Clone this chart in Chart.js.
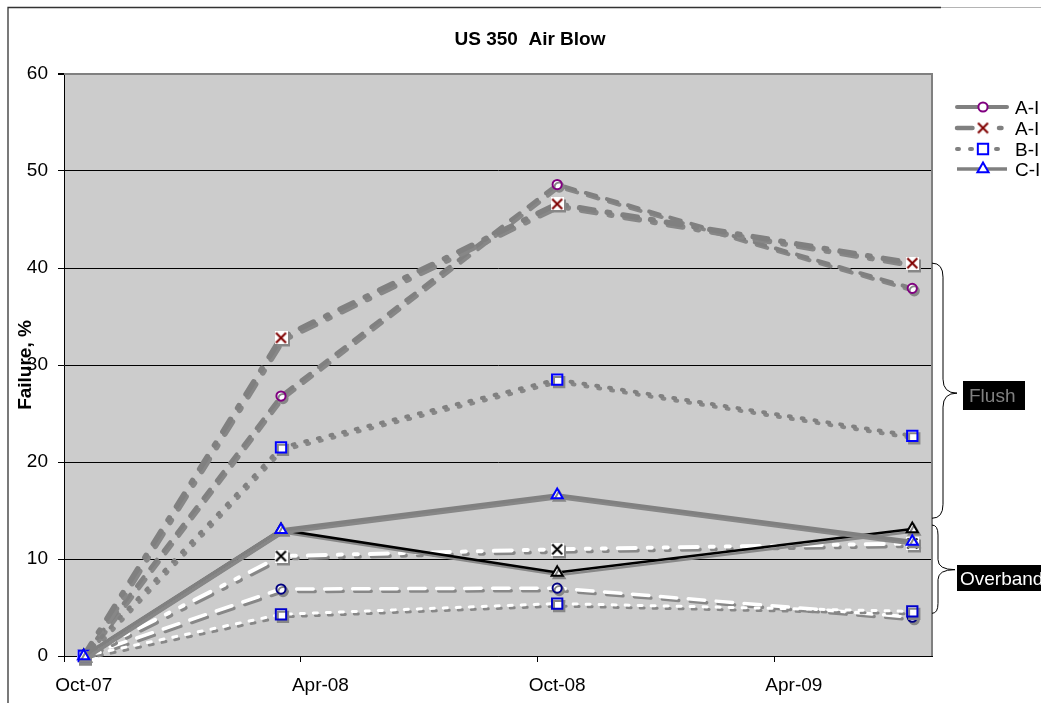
<!DOCTYPE html>
<html>
<head>
<meta charset="utf-8">
<script src="https://cdn.jsdelivr.net/npm/chart.js@4.4.1/dist/chart.umd.min.js"></script>
<style>
html,body{margin:0;padding:0;background:#ffffff;}
#wrap{width:1041px;height:703px;position:relative;overflow:hidden;}
canvas{display:block;}
</style>
</head>
<body>
<div id="wrap"><canvas id="c" width="1041" height="703"></canvas></div>
<script>
// ---------------- data ----------------
const chartTitle = 'US 350  Air Blow';
const yAxisTitle = 'Failure, %';
// x axis: months counted from 1 Oct 2007
const xMin = 0;
const xMax = 22;
const xTickValues = [0, 6, 12, 18];
const xTickLabels = ['Oct-07', 'Apr-08', 'Oct-08', 'Apr-09'];
const yTickValues = [0, 10, 20, 30, 40, 50, 60];
// sampling dates: mid Oct-07, mid Mar-08, mid Oct-08, mid Jul-09
const sampleMonths = [0.5, 5.5, 12.5, 21.5];

const legendNames = ['A-I', 'A-I', 'B-I', 'C-I'];

// Flush group (grey lines)
const flushCircle   = [0, 26.8, 48.6, 37.9];
const flushCross    = [0, 32.8, 46.6, 40.5];
const flushSquare   = [0, 21.5, 28.5, 22.7];
const flushTriangle = [0, 13.0, 16.6, 11.8];
// Overbanded group (white / black lines)
const overCircle    = [0, 6.9, 7.0, 4.0];
const overCross     = [0, 10.3, 11.0, 11.6];
const overSquare    = [0, 4.3, 5.4, 4.6];
const overTriangle  = [0, 13.0, 8.6, 13.1];

// brace annotations (value ranges on the y axis)
const groupLabels = ['Flush', 'Overbanded'];
const groupTop    = [40.5, 13.5];
const groupBottom = [14.2, 4.4];
const groupTip    = [27.1, 8.9];

// ---------------- helpers ----------------
const FONT = "'Liberation Sans', Arial, Helvetica, sans-serif";
function pts(vals){ return sampleMonths.map((m, i) => ({x: m, y: vals[i]})); }

function crossMarker(color){
  const c = document.createElement('canvas');
  c.width = 13; c.height = 13;
  const g = c.getContext('2d');
  g.fillStyle = '#ffffff';
  g.fillRect(0, 0, 13, 13);
  g.strokeStyle = color;
  g.lineWidth = 2;
  g.beginPath();
  g.moveTo(1.5, 1.5); g.lineTo(11.5, 11.5);
  g.moveTo(11.5, 1.5); g.lineTo(1.5, 11.5);
  g.stroke();
  return c;
}
const redCross = crossMarker('#800000');
const blackCross = crossMarker('#000000');

function roundDash(arr, w){ // visible lengths -> dash array for round caps
  return arr.map((v, i) => i % 2 === 0 ? Math.max(0.1, v - w) : v + w);
}

const GREY = '#808080';

const datasets = [
  { label: legendNames[0], data: pts(flushCircle), borderColor: GREY, borderWidth: 4,
    borderDash: roundDash([15, 7], 4), borderCapStyle: 'round', legendDash: [],
    pointStyle: 'circle', pointRadius: 4.6, pointBorderColor: '#800080', pointBackgroundColor: '#ffffff', pointBorderWidth: 2, order: 3 },
  { label: legendNames[1], data: pts(flushCross), borderColor: GREY, borderWidth: 5.5,
    borderDash: roundDash([20, 8, 8, 8], 5.5), borderCapStyle: 'round', legendDash: roundDash([21, 21, 8, 8], 5.5),
    pointStyle: redCross, pointRadius: 7, order: 2 },
  { label: legendNames[2], data: pts(flushSquare), borderColor: GREY, borderWidth: 4,
    borderDash: roundDash([6, 7], 4), borderCapStyle: 'round', legendDash: roundDash([6, 7], 4),
    pointStyle: 'rect', pointRadius: 7.3, pointBorderColor: '#0000ff', pointBackgroundColor: '#ffffff', pointBorderWidth: 2, order: 1 },
  { label: legendNames[3], data: pts(flushTriangle), borderColor: GREY, borderWidth: 3.5,
    borderDash: [], legendDash: [],
    pointStyle: 'triangle', pointRadius: 6.4, pointBorderColor: '#0000ff', pointBackgroundColor: '#ffffff', pointBorderWidth: 2, order: 0 },
  { label: 'Overbanded A-I', data: pts(overCircle), borderColor: '#ffffff', borderWidth: 3.5,
    borderDash: roundDash([20, 8], 3.5), borderCapStyle: 'round',
    pointStyle: 'circle', pointRadius: 4.6, pointBorderColor: '#000080', pointBackgroundColor: '#ffffff', pointBorderWidth: 2, order: 7 },
  { label: 'Overbanded A-I x', data: pts(overCross), borderColor: '#ffffff', borderWidth: 4,
    borderDash: roundDash([22, 8, 8, 8, 8, 8], 4), borderCapStyle: 'round',
    pointStyle: blackCross, pointRadius: 7, order: 6 },
  { label: 'Overbanded B-I', data: pts(overSquare), borderColor: '#ffffff', borderWidth: 3,
    borderDash: roundDash([7, 6], 3), borderCapStyle: 'round',
    pointStyle: 'rect', pointRadius: 7.3, pointBorderColor: '#0000cc', pointBackgroundColor: '#ffffff', pointBorderWidth: 2, order: 5 },
  { label: 'Overbanded C-I', data: pts(overTriangle), borderColor: '#000000', borderWidth: 2.5,
    borderDash: [],
    pointStyle: 'triangle', pointRadius: 6.4, pointBorderColor: '#000000', pointBackgroundColor: '#ffffff', pointBorderWidth: 2, order: 4 }
];
datasets.forEach(d => { d.clip = false; d.tension = 0; d.fill = false; d.pointHoverRadius = d.pointRadius; });

// ---------------- plugins ----------------
const backgroundPlugin = {
  id: 'bgFrame',
  beforeDraw(chart){
    const {ctx, chartArea: a} = chart;
    ctx.save();
    ctx.fillStyle = '#ffffff';
    ctx.fillRect(0, 0, chart.width, chart.height);
    ctx.fillStyle = '#cccccc';
    ctx.fillRect(a.left, a.top, a.right - a.left, a.bottom - a.top);
    // outer chart frame
    ctx.strokeStyle = '#333333';
    ctx.lineWidth = 1.3;
    ctx.beginPath();
    ctx.moveTo(8, chart.height); ctx.lineTo(8, 7.5); ctx.lineTo(941, 7.5);
    ctx.stroke();
    ctx.strokeStyle = '#b4b4b4';
    ctx.lineWidth = 1;
    ctx.beginPath();
    ctx.moveTo(941, 7.5); ctx.lineTo(chart.width, 7.5);
    ctx.stroke();
    // title
    ctx.fillStyle = '#000000';
    ctx.font = 'bold 19px ' + FONT;
    ctx.textAlign = 'center';
    ctx.textBaseline = 'alphabetic';
    ctx.fillText(chartTitle, 530, 45);
    ctx.restore();
  },
  beforeDatasetsDraw(chart){
    const {ctx, chartArea: a} = chart;
    ctx.save();
    ctx.strokeStyle = GREY;
    ctx.lineWidth = 2;
    ctx.beginPath();
    ctx.moveTo(a.left, a.top); ctx.lineTo(a.right, a.top); ctx.lineTo(a.right, a.bottom);
    ctx.stroke();
    ctx.restore();
  }
};

const shadowPlugin = {
  id: 'lineShadow',
  beforeDatasetDraw(chart){
    const ctx = chart.ctx;
    ctx.save();
    ctx.shadowColor = 'rgba(135,135,135,1)';
    ctx.shadowOffsetX = 2;
    ctx.shadowOffsetY = 2.5;
    ctx.shadowBlur = 0;
  },
  afterDatasetDraw(chart){
    chart.ctx.restore();
  }
};

function drawMarker(ctx, ds, x, y){
  const st = ds.pointStyle, r = ds.pointRadius;
  if (st instanceof HTMLCanvasElement){
    ctx.drawImage(st, x - st.width / 2, y - st.height / 2);
    return;
  }
  ctx.save();
  ctx.setLineDash([]);
  ctx.lineWidth = ds.pointBorderWidth;
  ctx.strokeStyle = ds.pointBorderColor;
  ctx.fillStyle = ds.pointBackgroundColor;
  ctx.beginPath();
  if (st === 'circle'){
    ctx.arc(x, y, r, 0, Math.PI * 2);
  } else if (st === 'rect'){
    const h = r * Math.SQRT1_2;
    ctx.rect(x - h, y - h, 2 * h, 2 * h);
  } else if (st === 'triangle'){
    ctx.moveTo(x, y - r);
    ctx.lineTo(x + r * 0.866, y + r * 0.5);
    ctx.lineTo(x - r * 0.866, y + r * 0.5);
    ctx.closePath();
  }
  ctx.fill();
  ctx.stroke();
  ctx.restore();
}

const legendPlugin = {
  id: 'excelLegend',
  afterDraw(chart){
    const ctx = chart.ctx;
    const x0 = 957, x1 = 1007, xm = 983, xt = 1015;
    const rowY = [107, 128, 149, 169];
    ctx.save();
    for (let i = 0; i < legendNames.length; i++){
      const ds = chart.data.datasets[i];
      const y = rowY[i];
      ctx.save();
      ctx.strokeStyle = ds.borderColor;
      ctx.lineWidth = Math.min(ds.borderWidth, 4.5);
      ctx.lineCap = ds.borderCapStyle || 'butt';
      ctx.setLineDash(ds.legendDash || []);
      ctx.beginPath();
      ctx.moveTo(x0, y); ctx.lineTo(x1, y);
      ctx.stroke();
      ctx.restore();
      drawMarker(ctx, ds, xm, y);
      ctx.fillStyle = '#000000';
      ctx.font = '19px ' + FONT;
      ctx.textAlign = 'left';
      ctx.textBaseline = 'alphabetic';
      ctx.fillText(legendNames[i], xt, y + 7);
    }
    ctx.restore();
  }
};

const bracePlugin = {
  id: 'braces',
  afterDraw(chart){
    const ctx = chart.ctx;
    const ys = chart.scales.y;
    const a = chart.chartArea;
    const specs = [
      {xv: a.right + 11, xt: a.right + 25, r: 14, box: [963, 381, 62, 29], color: GREY, tx: 969, ty: 402},
      {xv: a.right + 6,  xt: a.right + 23, r: 10, box: [957, 565, 90, 26], color: '#ffffff', tx: 960, ty: 585}
    ];
    ctx.save();
    for (let i = 0; i < groupLabels.length; i++){
      const s = specs[i];
      const yT = ys.getPixelForValue(groupTop[i]);
      const yB = ys.getPixelForValue(groupBottom[i]);
      const yM = ys.getPixelForValue(groupTip[i]);
      const x0 = a.right;
      ctx.strokeStyle = '#000000';
      ctx.lineWidth = 1;
      ctx.beginPath();
      ctx.moveTo(x0, yT);
      ctx.quadraticCurveTo(s.xv, yT, s.xv, yT + s.r);
      ctx.lineTo(s.xv, yM - s.r);
      ctx.quadraticCurveTo(s.xv, yM, s.xt, yM);
      ctx.quadraticCurveTo(s.xv, yM, s.xv, yM + s.r);
      ctx.lineTo(s.xv, yB - s.r);
      ctx.quadraticCurveTo(s.xv, yB, x0, yB);
      ctx.stroke();
      ctx.fillStyle = '#000000';
      ctx.fillRect(s.box[0], s.box[1], s.box[2], s.box[3]);
      ctx.fillStyle = s.color;
      ctx.font = '19px ' + FONT;
      ctx.textAlign = 'left';
      ctx.textBaseline = 'alphabetic';
      ctx.fillText(groupLabels[i], s.tx, s.ty);
    }
    ctx.restore();
  }
};

// ---------------- chart ----------------
new Chart(document.getElementById('c'), {
  type: 'line',
  data: { datasets },
  options: {
    responsive: false,
    animation: false,
    events: [],
    layout: { padding: { top: 74, right: 109, bottom: 0, left: 0 } },
    plugins: { legend: { display: false }, title: { display: false }, tooltip: { enabled: false } },
    scales: {
      x: {
        type: 'linear',
        min: xMin, max: xMax,
        afterBuildTicks: s => { s.ticks = xTickValues.map(v => ({ value: v })); },
        afterFit: s => { s.height = 47; },
        ticks: {
          callback: v => xTickLabels[xTickValues.indexOf(v)],
          font: { family: FONT, size: 19 },
          color: '#000000',
          padding: 12,
          labelOffset: 19.7,
          maxRotation: 0,
          autoSkip: false
        },
        grid: { drawOnChartArea: false, drawTicks: true, tickLength: 6, color: '#000000', lineWidth: 1 },
        border: { display: true, color: '#000000', width: 1 }
      },
      y: {
        min: 0, max: 60,
        afterBuildTicks: s => { s.ticks = yTickValues.map(v => ({ value: v })); },
        afterFit: s => { s.width = 64; },
        ticks: {
          font: { family: FONT, size: 19 },
          color: '#000000',
          padding: 10
        },
        grid: {
          color: c => (c.tick && c.tick.value === 60) ? GREY : '#000000',
          lineWidth: c => (c.tick && c.tick.value === 60) ? 2 : 1,
          tickColor: '#000000',
          tickLength: 6,
          drawTicks: true
        },
        border: { display: true, color: '#000000', width: 1 },
        title: {
          display: true,
          text: yAxisTitle,
          font: { family: FONT, size: 19, weight: 'bold' },
          color: '#000000',
          padding: { top: 14, bottom: 0 }
        }
      }
    }
  },
  plugins: [backgroundPlugin, shadowPlugin, legendPlugin, bracePlugin]
});
</script>
</body>
</html>
